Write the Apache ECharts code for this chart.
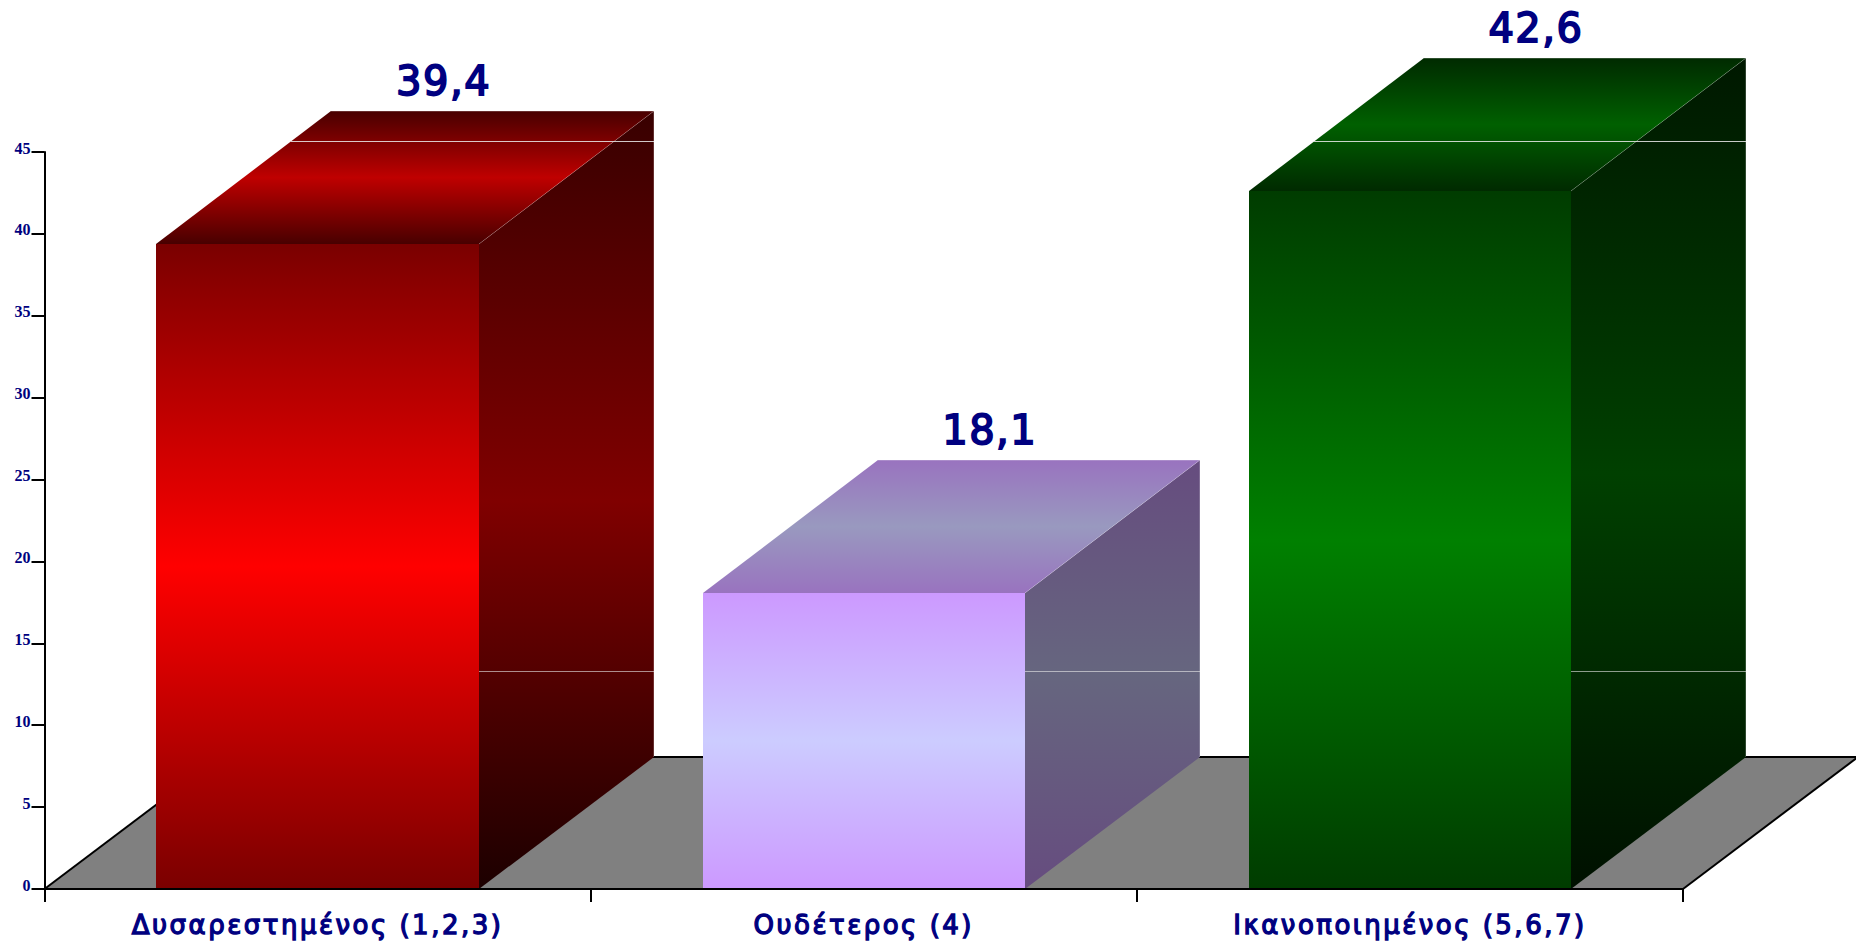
<!DOCTYPE html>
<html><head><meta charset="utf-8">
<style>
html,body{margin:0;padding:0;background:#fff}
#c{width:1856px;height:946px}
svg text[style*="26px"]{letter-spacing:2.5px}
svg text[style*="40px"]{letter-spacing:1.5px}
</style>
<script src="https://cdn.jsdelivr.net/npm/echarts@6/dist/echarts.min.js"></script>
</head><body><div id="c"></div>
<script>
const categories = ['Δυσαρεστημένος (1,2,3)', 'Ουδέτερος (4)', 'Ικανοποιημένος (5,6,7)'];
const values = [39.4, 18.1, 42.6];
const yTicks = [0, 5, 10, 15, 20, 25, 30, 35, 40, 45];
const seamValues = [45.65, 13.3];

const palette = [
  {front:['#7a0000','#ff0000'], top:['#480000','#bf0000'], side:['#380000','#800000','#1c0000']},
  {front:['#cc99ff','#ccccff'], top:['#9973bf','#9999bf'], side:['#664c7f','#66667f','#664c7f']},
  {front:['#003c00','#008000'], top:['#002a00','#006000'], side:['#001800','#004000','#001000']}
];
const DX = 175, DY = 133, FLOOR_DY = 132, NAVY = '#000080', W = 0.59;
const grad = s => new echarts.graphic.LinearGradient(0,0,0,1,[
  {offset:0,color:s[0]},{offset:.5,color:s[1]},{offset:1,color:s[2]||s[0]}]);
const poly = (pts,style,z2) => ({type:'polygon',shape:{points:pts},style:style,z2:z2||0,silent:true});
const line = (x1,y1,x2,y2,stroke,w,z2) => ({type:'line',shape:{x1,y1,x2,y2},style:{stroke,lineWidth:w,fill:null},z2:z2||0,silent:true});

function renderFloor(params, api){
  if(params.dataIndex!==0) return null;
  const base = api.coord([0,0])[1];
  const s = params.coordSys, x0 = s.x, x1 = s.x + s.width;
  return {type:'group',children:[
    poly([[x0,base],[x1,base],[x1+DX,base-FLOOR_DY],[x0+DX,base-FLOOR_DY]],{fill:'#808080'}),
    line(x0,base,x0+DX,base-FLOOR_DY,'#000',2,1),
    line(x0+DX,base-FLOOR_DY,x1+DX,base-FLOOR_DY,'#000',2,1),
    line(x1,base,x1+DX,base-FLOOR_DY,'#000',2,1)
  ]};
}
function renderBar(params, api){
  const i = params.dataIndex, v = api.value(1), c = api.coord([i,v]), b = api.coord([i,0]);
  const w = api.size([1,0])[0]*W;
  const fl = Math.round(c[0]-w/2), fr = Math.round(c[0]+w/2), t = Math.round(c[1]), base = Math.round(b[1]);
  const p = palette[i], edge = 'rgba(255,255,255,0.18)';
  const kids = [
    poly([[fr,base],[fr+DX,base-FLOOR_DY],[fr+DX,t-DY],[fr,t]],{fill:grad(p.side)},2),
    poly([[fl,t],[fr,t],[fr+DX,t-DY],[fl+DX,t-DY]],{fill:grad(p.top)},2),
    poly([[fl,base],[fr,base],[fr,t],[fl,t]],{fill:grad(p.front)},3),
    {type:'polyline',shape:{points:[[fl+DX,t-DY+.5],[fr+DX-.5,t-DY+.5],[fr+DX-.5,base-FLOOR_DY]]},style:{stroke:edge,lineWidth:1,fill:null},z2:4,silent:true},
    line(fr,t,fr+DX,t-DY,edge,1,4),
    {type:'text',style:{text:String(v).replace('.',','),x:c[0]+126,y:t-DY-30,align:'center',verticalAlign:'middle',
      fontFamily:'DejaVu Sans',fontSize:40,fill:NAVY,stroke:NAVY,lineWidth:1.8},z2:6,silent:true}
  ];
  seamValues.forEach(sv=>{
    const y = Math.round(api.coord([i,sv])[1])+.5;
    if(y>=t-DY && y<=t) kids.push(line(fl+(t-y)*DX/DY,y,fr+DX,y,'rgba(235,235,235,0.85)',1,5));
    else if(y>t && y<base-FLOOR_DY) kids.push(line(fr,y,fr+DX,y,'rgba(235,235,235,0.6)',1,5));
  });
  return {type:'group',children:kids};
}
const chart = echarts.init(document.getElementById('c'),null,{renderer:'svg'});
chart.setOption({
  animation:false,
  backgroundColor:'#fff',
  grid:{left:44.5,right:173,top:152,bottom:57,containLabel:false},
  xAxis:{type:'category',data:categories,z:5,
    axisLine:{lineStyle:{color:'#000',width:2}},
    axisTick:{show:true,alignWithLabel:false,length:13,lineStyle:{color:'#000',width:2}},
    axisLabel:{margin:23,color:NAVY,fontFamily:'DejaVu Sans',fontSize:26,textBorderColor:NAVY,textBorderWidth:1.3,interval:0}},
  yAxis:{type:'value',min:yTicks[0],max:yTicks[yTicks.length-1],interval:yTicks[1]-yTicks[0],z:5,
    axisLine:{show:true,lineStyle:{color:'#000',width:2}},
    axisTick:{show:true,length:13,lineStyle:{color:'#000',width:2}},
    splitLine:{show:false},
    axisLabel:{margin:14,color:NAVY,fontFamily:'Liberation Serif',fontSize:16,fontWeight:'bold',verticalAlign:'bottom',lineHeight:8}},
  series:[
    {type:'custom',coordinateSystem:'cartesian2d',renderItem:renderFloor,data:values.map((v,i)=>[i,v]),z:1,encode:{x:0,y:1}},
    {type:'custom',coordinateSystem:'cartesian2d',renderItem:renderBar,data:values.map((v,i)=>[i,v]),z:2,encode:{x:0,y:1}}
  ]
});
</script></body></html>
